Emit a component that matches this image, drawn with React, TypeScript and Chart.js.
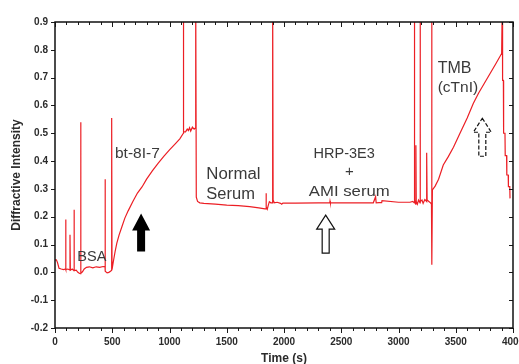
import { useEffect, useRef } from 'react';
import { Chart, registerables } from 'chart.js';

Chart.register(...registerables);

// ---- data ----
const timeS: number[] = [
  0, 12, 22, 35, 55, 75, 93, 93, 96, 112, 131, 131, 134, 150, 166, 166, 169, 185, 200, 215, 224, 224, 227, 240,
  255, 275, 300, 330, 360, 390, 420, 437, 437, 440, 455, 470, 485, 495, 495, 498,
  510, 525, 540, 560, 585, 610, 640, 680, 720, 760, 800, 850, 900, 950, 1000, 1050, 1090, 1121, 1121, 1124,
  1140, 1155, 1165, 1175, 1185, 1200, 1215, 1229, 1229, 1234, 1245, 1265,
  1300, 1400, 1500, 1600, 1700, 1780, 1834, 1843, 1843, 1846, 1854, 1862, 1872, 1885, 1901, 1901, 1905, 1915,
  1940, 1970, 1980, 1990, 2100, 2300, 2400, 2402, 2405, 2600, 2780, 2800, 2805, 2830, 2853, 2856, 3000, 3100,
  3125, 3138, 3138, 3142, 3150, 3152, 3155, 3165, 3175, 3188, 3188, 3192, 3205, 3215, 3230, 3246, 3246, 3250,
  3265, 3280, 3288, 3290, 3292, 3296,
  3320, 3350, 3391, 3435, 3480, 3537, 3600, 3653, 3700, 3750, 3800, 3850, 3901, 3907, 3909, 3916, 3918, 3930,
  3932, 3944, 3946, 3958, 3960, 3972, 3974, 3980,
];
const intensity: number[] = [
  0.045, 0.045, 0.035, 0.015, 0.012, 0.01, 0.012, 0.19, 0.01, 0.012, 0.008, 0.135, 0.008, 0.012, 0.006, 0.225, 0.006, 0.008, 0.0, -0.004, -0.005, 0.54, -0.003, 0.002,
  0.012, 0.018, 0.02, 0.016, 0.02, 0.018, 0.021, 0.02, 0.335, 0.004, -0.002, 0.0, 0.004, 0.008, 0.555, 0.01,
  0.04, 0.075, 0.105, 0.135, 0.165, 0.195, 0.222, 0.255, 0.285, 0.307, 0.335, 0.365, 0.392, 0.417, 0.44, 0.462, 0.48, 0.5, 1.0, 0.505,
  0.505, 0.515, 0.51, 0.52, 0.508, 0.522, 0.515, 0.52, 1.0, 0.27, 0.255, 0.25,
  0.248, 0.245, 0.242, 0.24, 0.236, 0.232, 0.228, 0.228, 0.284, 0.235, 0.227, 0.24, 0.254, 0.25, 0.25, 1.0, 0.26, 0.25,
  0.252, 0.248, 0.245, 0.249, 0.249, 0.25, 0.25, 0.256, 0.25, 0.25, 0.25, 0.272, 0.25, 0.251, 0.251, 0.258, 0.252, 0.252,
  0.255, 0.25, 1.0, 0.26, 0.245, 0.457, 0.255, 0.245, 0.26, 0.25, 1.0, 0.255, 0.26, 0.248, 0.262, 0.255, 0.43, 0.26,
  0.255, 0.25, 0.245, 1.0, 0.027, 0.296,
  0.31, 0.335, 0.386, 0.416, 0.45, 0.5, 0.555, 0.607, 0.645, 0.68, 0.715, 0.75, 0.787, 1.0, 0.69, 0.69, 0.5, 0.5,
  0.42, 0.42, 0.35, 0.35, 0.308, 0.308, 0.266, 0.266,
];
const yTickValues: number[] = [0.9, 0.8, 0.7, 0.6, 0.5, 0.4, 0.3, 0.2, 0.1, 0.0, -0.1, -0.2];
const xTickValues: number[] = [0, 500, 1000, 1500, 2000, 2500, 3000, 3500, 4000];
const xMinorStep = 100;

const xTitle = 'Time (s)';
const yTitle = 'Diffractive Intensity';

// text annotations, anchored in data coordinates
const labels = [
  { text: 'BSA', x: 195, y: 0.056, align: 'left', size: 14.5, sx: 1 },
  { text: 'bt-8I-7', x: 524, y: 0.426, align: 'left', size: 15.5, sx: 1 },
  { text: 'Normal', x: 1322, y: 0.35, align: 'left', size: 16, sx: 1.05 },
  { text: 'Serum', x: 1322, y: 0.278, align: 'left', size: 16, sx: 1.03 },
  { text: 'HRP-3E3', x: 2526, y: 0.426, align: 'center', size: 14.5, sx: 1 },
  { text: '+', x: 2570, y: 0.362, align: 'center', size: 15, sx: 1 },
  { text: 'AMI serum', x: 2570, y: 0.29, align: 'center', size: 15.5, sx: 1.08 },
  { text: 'TMB', x: 3342, y: 0.734, align: 'left', size: 16, sx: 1 },
  { text: '(cTnI)', x: 3342, y: 0.662, align: 'left', size: 15.5, sx: 1 },
];
// arrows: tip anchored in data coordinates
const arrows = [
  { x: 752, y: 0.212, style: 'filled' },
  { x: 2364, y: 0.206, style: 'open' },
  { x: 3732, y: 0.554, style: 'dashed' },
];

const FONT = "'Liberation Sans', Arial, Helvetica, sans-serif";

const decorPlugin = {
  id: 'decor',
  afterDatasetsDraw(chart: any) {
    const { ctx, chartArea: a, scales } = chart;
    const xs = scales.x;
    const ys = scales.y;
    ctx.save();
    // tick marks
    ctx.strokeStyle = '#1a1a1a';
    ctx.lineWidth = 1;
    const seg = (x1: number, y1: number, x2: number, y2: number) => {
      ctx.beginPath();
      ctx.moveTo(x1, y1);
      ctx.lineTo(x2, y2);
      ctx.stroke();
    };
    const xMin = xTickValues[0];
    const xMax = xTickValues[xTickValues.length - 1];
    for (let t = xMin; t <= xMax; t += xMinorStep) {
      const px = Math.round(xs.getPixelForValue(t)) + 0.5;
      const major = xTickValues.includes(t);
      const len = major ? 5 : 3;
      seg(px, a.bottom, px, a.bottom + len);
      seg(px, a.top, px, a.top + len);
    }
    for (const v of yTickValues) {
      const py = Math.round(ys.getPixelForValue(v)) + 0.5;
      seg(a.left - 4, py, a.left, py);
      seg(a.right - 4, py, a.right, py);
    }
    // frame
    ctx.lineWidth = 1.5;
    ctx.strokeStyle = '#111';
    ctx.strokeRect(a.left, a.top, a.right - a.left, a.bottom - a.top);

    // axis titles
    ctx.fillStyle = '#2b2b2b';
    ctx.font = `bold 12px ${FONT}`;
    ctx.textAlign = 'center';
    ctx.textBaseline = 'middle';
    ctx.fillText(xTitle, (a.left + a.right) / 2, 359);
    ctx.save();
    ctx.translate(17, (a.top + a.bottom) / 2);
    ctx.rotate(-Math.PI / 2);
    ctx.fillText(yTitle, 0, 0);
    ctx.restore();

    // annotations
    ctx.fillStyle = '#3a3a3a';
    for (const l of labels) {
      ctx.save();
      ctx.font = `${l.size}px ${FONT}`;
      ctx.textAlign = l.align as CanvasTextAlign;
      ctx.translate(xs.getPixelForValue(l.x), ys.getPixelForValue(l.y));
      ctx.scale(l.sx, 1);
      ctx.fillText(l.text, 0, 0);
      ctx.restore();
    }

    // arrows
    for (const ar of arrows) {
      const cx = xs.getPixelForValue(ar.x);
      const ty = ys.getPixelForValue(ar.y);
      const headHalf = 9;
      const shaftHalf = ar.style === 'filled' ? 4 : 3.5;
      const headH = ar.style === 'filled' ? 17 : 14;
      const total = 38;
      ctx.beginPath();
      ctx.moveTo(cx, ty);
      ctx.lineTo(cx + headHalf, ty + headH);
      ctx.lineTo(cx + shaftHalf, ty + headH);
      ctx.lineTo(cx + shaftHalf, ty + total);
      ctx.lineTo(cx - shaftHalf, ty + total);
      ctx.lineTo(cx - shaftHalf, ty + headH);
      ctx.lineTo(cx - headHalf, ty + headH);
      ctx.closePath();
      if (ar.style === 'filled') {
        ctx.fillStyle = '#000';
        ctx.fill();
      } else {
        ctx.strokeStyle = '#111';
        ctx.lineWidth = 1.2;
        ctx.setLineDash(ar.style === 'dashed' ? [4, 2] : []);
        ctx.stroke();
        ctx.setLineDash([]);
      }
    }
    ctx.restore();
  },
};

const zeroPad = (s: any) => {
  s.paddingLeft = 0;
  s.paddingRight = 0;
  s.paddingTop = 0;
  s.paddingBottom = 0;
};

export default function App() {
  const ref = useRef<HTMLCanvasElement>(null);
  useEffect(() => {
    if (!ref.current) return;
    const points = timeS.map((t, i) => ({ x: t, y: intensity[i] }));
    const chart = new Chart(ref.current, {
      type: 'line',
      data: {
        datasets: [
          {
            data: points,
            borderColor: 'rgb(236, 30, 36)',
            borderWidth: 1.2,
            pointRadius: 0,
            tension: 0,
            fill: false,
          },
        ],
      },
      options: {
        animation: false,
        responsive: false,
        events: [],
        layout: { padding: { top: 22, right: 6, left: 0, bottom: 0 } },
        plugins: { legend: { display: false }, tooltip: { enabled: false } },
        scales: {
          x: {
            type: 'linear',
            min: 0,
            max: 4000,
            afterFit: (s: any) => { s.height = 36; zeroPad(s); },
            afterBuildTicks: (s: any) => { s.ticks = xTickValues.map((v) => ({ value: v })); },
            grid: { display: false, drawTicks: false },
            border: { display: false },
            ticks: {
              padding: 8,
              maxRotation: 0,
              autoSkip: false,
              color: '#2b2b2b',
              font: { family: FONT, size: 10, weight: 'bold' },
              callback: (v: any) => String(v),
            },
          },
          y: {
            type: 'linear',
            min: -0.2,
            max: 0.9,
            afterFit: (s: any) => { s.width = 55; zeroPad(s); },
            afterBuildTicks: (s: any) => { s.ticks = yTickValues.map((v) => ({ value: v })); },
            grid: { display: false, drawTicks: false },
            border: { display: false },
            ticks: {
              padding: 7,
              autoSkip: false,
              color: '#2b2b2b',
              font: { family: FONT, size: 10, weight: 'bold' },
              callback: (v: any) => Number(v).toFixed(1),
            },
          },
        },
      },
      plugins: [decorPlugin],
    });
    return () => chart.destroy();
  }, []);
  return (
    <div style={{ position: 'fixed', left: 0, top: 0, width: 519, height: 364, background: '#fff' }}>
      <canvas ref={ref} width={519} height={364} />
    </div>
  );
}
